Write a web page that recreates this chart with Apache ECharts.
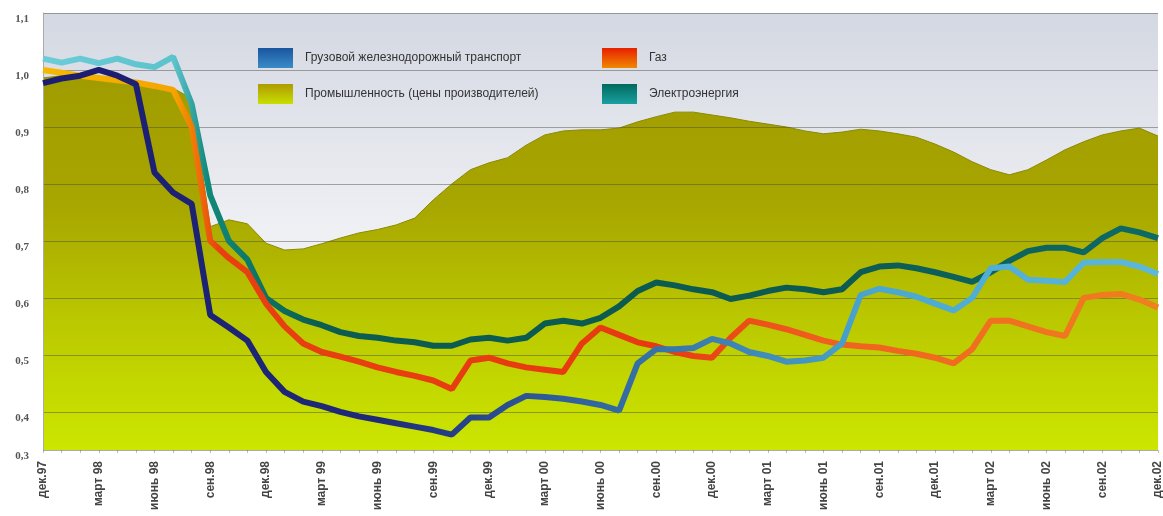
<!DOCTYPE html>
<html><head><meta charset="utf-8">
<script src="https://cdn.jsdelivr.net/npm/echarts@6/dist/echarts.min.js"></script>
<style>html,body{margin:0;padding:0;background:#fff}#c{width:1163px;height:516px}</style>
</head><body><div id="c"></div>
<script>
const months = [
 "дек.97","янв.98","фев.98","март 98","апр.98","май 98","июнь 98","июль 98","авг.98","сен.98","окт.98","нояб.98",
 "дек.98","янв.99","фев.99","март 99","апр.99","май 99","июнь 99","июль 99","авг.99","сен.99","окт.99","нояб.99",
 "дек.99","янв.00","фев.00","март 00","апр.00","май 00","июнь 00","июль 00","авг.00","сен.00","окт.00","нояб.00",
 "дек.00","янв.01","фев.01","март 01","апр.01","май 01","июнь 01","июль 01","авг.01","сен.01","окт.01","нояб.01",
 "дек.01","янв.02","фев.02","март 02","апр.02","май 02","июнь 02","июль 02","авг.02","сен.02","окт.02","нояб.02",
 "дек.02"];
const yTicks = [0.333,0.4,0.5,0.6,0.7,0.8,0.9,1.0,1.1];
const industry = [0.986,0.99,0.986,0.982,0.979,0.975,0.972,0.968,0.95,0.725,
 0.737,0.73,0.696,0.684,0.686,0.695,0.705,0.714,0.72,0.728,
 0.74,0.772,0.80,0.825,0.837,0.846,0.868,0.886,0.893,0.895,
 0.895,0.898,0.909,0.918,0.926,0.926,0.921,0.916,0.91,0.905,
 0.90,0.893,0.888,0.891,0.896,0.893,0.888,0.882,0.87,0.856,
 0.839,0.825,0.816,0.825,0.842,0.86,0.874,0.886,0.893,0.898,0.884];
const rail = [0.977,0.985,0.99,1.0,0.99,0.975,0.82,0.785,0.765,0.57,
 0.548,0.525,0.47,0.435,0.418,0.41,0.40,0.392,0.386,0.38,
 0.374,0.368,0.36,0.39,0.39,0.412,0.428,0.426,0.423,0.418,
 0.412,0.402,0.485,0.51,0.51,0.512,0.528,0.52,0.505,0.498,
 0.488,0.49,0.495,0.52,0.605,0.616,0.61,0.602,0.59,0.578,
 0.60,0.652,0.655,0.632,0.63,0.628,0.662,0.663,0.663,0.655,0.642];
const gas = [1.0,0.995,0.99,0.986,0.982,0.978,0.972,0.965,0.9,0.70,
 0.67,0.645,0.59,0.55,0.52,0.505,0.497,0.488,0.478,0.47,
 0.463,0.455,0.44,0.49,0.495,0.485,0.478,0.474,0.47,0.52,
 0.548,0.535,0.522,0.515,0.505,0.498,0.495,0.53,0.56,0.553,
 0.545,0.535,0.525,0.518,0.515,0.513,0.507,0.502,0.495,0.485,
 0.51,0.56,0.56,0.55,0.54,0.533,0.6,0.605,0.607,0.597,0.583];
const electricity = [1.02,1.013,1.02,1.012,1.02,1.01,1.005,1.023,0.94,0.78,
 0.70,0.667,0.60,0.577,0.562,0.552,0.54,0.533,0.53,0.525,
 0.522,0.516,0.516,0.527,0.53,0.525,0.53,0.555,0.56,0.555,
 0.565,0.585,0.612,0.627,0.622,0.615,0.61,0.598,0.604,0.612,
 0.618,0.615,0.61,0.615,0.645,0.655,0.657,0.652,0.645,0.637,
 0.628,0.645,0.665,0.682,0.688,0.688,0.68,0.705,0.722,0.715,0.705];

const names = {
  rail: "Грузовой железнодорожный транспорт",
  gas: "Газ",
  ind: "Промышленность (цены производителей)",
  el: "Электроэнергия"
};
const G = echarts.graphic.LinearGradient;
const hGrad = stops => new G(0,0,1,0, stops.map(s => ({offset:s[0], color:s[1]})));
const vGrad = stops => new G(0,0,0,1, stops.map(s => ({offset:s[0], color:s[1]})));

const chart = echarts.init(document.getElementById('c'));
chart.setOption({
  animation: false,
  backgroundColor: '#ffffff',
  grid: {left: 43, right: 5, top: 13, bottom: 66, show: true, borderWidth: 0,
    backgroundColor: vGrad([[0,'#d4d8e2'],[0.5,'#eff0f4'],[1,'#f3f3f6']]), outerBoundsMode: 'none'},
  legend: [
    {left: 253, top: 43, orient: 'vertical', icon: 'rect', itemWidth: 35, itemHeight: 20, itemGap: 16,
     selectedMode: false, textStyle: {fontSize: 12, color: '#333', fontFamily: 'Liberation Sans', padding: [0,0,0,7]},
     data: [
       {name: names.rail, itemStyle: {color: vGrad([[0,'#1a55a0'],[1,'#3a8cc8']]), borderWidth: 0}},
       {name: names.ind, itemStyle: {color: vGrad([[0,'#b09a00'],[1,'#c8e000']]), borderWidth: 0}}
     ]},
    {left: 597, top: 43, orient: 'vertical', icon: 'rect', itemWidth: 35, itemHeight: 20, itemGap: 16,
     selectedMode: false, textStyle: {fontSize: 12, color: '#333', fontFamily: 'Liberation Sans', padding: [0,0,0,7]},
     data: [
       {name: names.gas, itemStyle: {color: vGrad([[0,'#e82000'],[1,'#f08800']]), borderWidth: 0}},
       {name: names.el, itemStyle: {color: vGrad([[0,'#006a5e'],[1,'#1aa0a0']]), borderWidth: 0}}
     ]}
  ],
  xAxis: {
    type: 'category', data: months, boundaryGap: false,
    axisLine: {show: false},
    axisTick: {show: true, interval: 0, length: 3, lineStyle: {color: '#c0c0c0'}},
    axisLabel: {interval: 2, rotate: 90, fontSize: 12, fontWeight: 'bold', color: '#444',
      fontFamily: 'Liberation Sans', margin: 11},
    splitLine: {show: false}
  },
  yAxis: {
    type: 'value', min: 0.333, max: 1.1, z: 3,
    axisLine: {show: true, lineStyle: {color: '#aaaaaa'}},
    axisTick: {show: false, customValues: yTicks},
    axisLabel: {customValues: yTicks, fontSize: 11, fontWeight: 'bold', color: '#555',
      fontFamily: 'Liberation Serif', margin: 14, verticalAlign: 'top', padding: [1,0,0,0],
      formatter: v => (Math.round(v*10)/10).toFixed(1).replace('.', ',')},
    splitLine: {show: true, lineStyle: {color: 'rgba(70,70,60,0.45)', width: 1}}
  },
  series: [
    {name: names.ind, type: 'line', data: industry, symbol: 'none', z: 1,
     lineStyle: {width: 1, color: '#8c8a00'},
     itemStyle: {color: '#b0a800'},
     areaStyle: {opacity: 1, color: vGrad([[0,'#a09c00'],[0.35,'#a8a600'],[0.65,'#bac800'],[1,'#cce600']])}},
    {name: names.el, type: 'line', data: electricity, symbol: 'none', z: 5,
     lineStyle: {width: 6, color: hGrad([[0,'#6ccdd8'],[0.12,'#5cc2cc'],[0.15,'#108878'],[0.25,'#0c5c50'],[0.7,'#0c5a52'],[1,'#0e6a66']])},
     itemStyle: {color: '#0c5c50'}},
    {name: names.gas, type: 'line', data: gas, symbol: 'none', z: 6,
     lineStyle: {width: 6, color: hGrad([[0,'#f5b800'],[0.12,'#f5a400'],[0.16,'#e84010'],[0.55,'#e83a10'],[0.7,'#f06020'],[1,'#f08020']])},
     itemStyle: {color: '#e84010'}},
    {name: names.rail, type: 'line', data: rail, symbol: 'none', z: 7,
     lineStyle: {width: 6, color: hGrad([[0,'#1c1c70'],[0.3,'#1e2a78'],[0.45,'#2e5a98'],[0.6,'#3c80b0'],[0.75,'#4aa8d0'],[1,'#5cb8dc']])},
     itemStyle: {color: '#1e2a78'}}
  ]
});
</script>
</body></html>
